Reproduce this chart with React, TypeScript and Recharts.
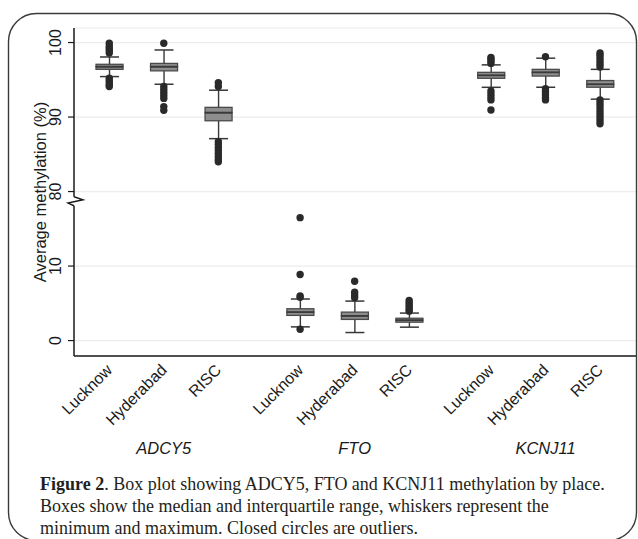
import React from 'react';
import {
  ComposedChart,
  Bar,
  Scatter,
  XAxis,
  YAxis,
  CartesianGrid,
  ReferenceLine,
  Label,
} from 'recharts';

// ---------- data ----------
const SITES = ['Lucknow', 'Hyderabad', 'RISC', 'Lucknow', 'Hyderabad', 'RISC', 'Lucknow', 'Hyderabad', 'RISC'];
const GENES = ['ADCY5', 'FTO', 'KCNJ11'];
const POSITIONS = [1, 2, 3, 4.5, 5.5, 6.5, 8, 9, 10];

const WHISKER_LOW = [95.43, 94.4, 87.1, 1.84, 1.08, 1.8, 93.99, 94.0, 92.4];
const Q1 = [96.4, 96.2, 89.5, 3.38, 2.84, 2.47, 95.2, 95.5, 94.0];
const MEDIAN = [96.77, 96.77, 90.6, 3.82, 3.33, 2.74, 95.6, 96.0, 94.4];
const Q3 = [97.08, 97.2, 91.3, 4.27, 3.82, 3.0, 96.0, 96.4, 94.9];
const WHISKER_HIGH = [98.06, 99.0, 93.6, 5.58, 5.3, 3.69, 97.0, 97.9, 96.4];

const OUTLIERS = [
  [98.6, 98.9, 99.2, 99.5, 99.9, 95.2, 94.9, 94.6, 94.3, 94.1],
  [99.9, 94.1, 93.7, 93.3, 92.9, 92.5, 91.4, 90.9],
  [94.1, 94.6, 86.7, 86.3, 85.9, 85.5, 85.1, 84.7, 84.3, 84.0],
  [16.5, 8.86, 6.0, 5.8, 1.53],
  [7.97, 6.5, 6.1, 5.76],
  [3.95, 4.2, 4.5, 4.8, 5.1, 5.4],
  [97.2, 97.5, 97.8, 98.0, 93.5, 93.1, 92.7, 92.3, 90.95],
  [98.1, 93.8, 93.4, 93.0, 92.6, 92.3],
  [96.7, 97.1, 97.5, 97.9, 98.3, 98.6, 92.3, 91.9, 91.5, 91.1, 90.7, 90.3, 89.9, 89.5, 89.1],
];

const Y_TICK_VALUES = [0, 10, 80, 90, 100];
const Y_TITLE = 'Average methylation (%)';
const CAPTION_LINES = [
  'Boxes show the median and interquartile range, whiskers represent the',
  'minimum and maximum. Closed circles are outliers.',
];

// ---------- broken-axis mapping ----------
const SHIFT = 60; // upper segment (80-100) is drawn right above the lower one
const toAxis = (v: number) => (v >= 50 ? v - SHIFT : v);
const fromAxis = (t: number) => (t > 19 ? t + SHIFT : t);
const BREAK_AT = 18.7;
const Y_DOMAIN: [number, number] = [-2.07, 41.95];
const X_DOMAIN: [number, number] = [0.353, 10.66];

const boxRows = POSITIONS.map((x, i) => ({
  x,
  base: toAxis(WHISKER_LOW[i]),
  lowW: toAxis(Q1[i]) - toAxis(WHISKER_LOW[i]),
  lowBox: toAxis(MEDIAN[i]) - toAxis(Q1[i]),
  highBox: toAxis(Q3[i]) - toAxis(MEDIAN[i]),
  highW: toAxis(WHISKER_HIGH[i]) - toAxis(Q3[i]),
}));

const outlierPoints = OUTLIERS.flatMap((vals, i) => vals.map((v) => ({ x: POSITIONS[i], y: toAxis(v) })));

// ---------- styles ----------
const SANS = '"Liberation Sans", Arial, sans-serif';
const SERIF = '"Liberation Serif", "Times New Roman", serif';
const BOX_FILL = '#8e8e8e';
const BOX_STROKE = '#4a4a4a';
const WHISKER = '#383838';
const CAP = 19;

const norm = (p: any) => {
  const y = Math.min(p.y, p.y + p.height);
  const h = Math.abs(p.height);
  return { x: p.x, w: p.width, y, h };
};

const Empty = () => <g />;

const LowWhisker = (p: any) => {
  const { x, w, y, h } = norm(p);
  const cx = x + w / 2;
  return (
    <g>
      <line x1={cx} x2={cx} y1={y} y2={y + h} stroke={WHISKER} strokeWidth={1.4} />
      <line x1={cx - CAP / 2} x2={cx + CAP / 2} y1={y + h} y2={y + h} stroke={WHISKER} strokeWidth={1.5} />
    </g>
  );
};

const HighWhisker = (p: any) => {
  const { x, w, y, h } = norm(p);
  const cx = x + w / 2;
  return (
    <g>
      <line x1={cx} x2={cx} y1={y} y2={y + h} stroke={WHISKER} strokeWidth={1.4} />
      <line x1={cx - CAP / 2} x2={cx + CAP / 2} y1={y} y2={y} stroke={WHISKER} strokeWidth={1.5} />
    </g>
  );
};

const LowBox = (p: any) => {
  const { x, w, y, h } = norm(p);
  return (
    <g>
      <rect x={x} y={y} width={w} height={h} fill={BOX_FILL} stroke={BOX_STROKE} strokeWidth={1.3} />
      <line x1={x} x2={x + w} y1={y} y2={y} stroke="#3a3a3a" strokeWidth={1.6} />
    </g>
  );
};

const HighBox = (p: any) => {
  const { x, w, y, h } = norm(p);
  return (
    <g>
      <rect x={x} y={y} width={w} height={h} fill={BOX_FILL} stroke={BOX_STROKE} strokeWidth={1.3} />
      <line x1={x} x2={x + w} y1={y + h} y2={y + h} stroke="#3a3a3a" strokeWidth={1.6} />
    </g>
  );
};

const Dot = (p: any) => <circle cx={p.cx} cy={p.cy} r={3.7} fill="#2a2a2a" />;

const XTick = (p: any) => {
  const { x, y, payload } = p;
  const idx = POSITIONS.indexOf(payload.value);
  if (idx < 0) return <g />;
  const px = x;
  const py = y + 3;
  return (
    <g>
      <text
        x={px}
        y={py}
        dy="0.35em"
        textAnchor="end"
        transform={`rotate(-45 ${px} ${py})`}
        fontFamily={SANS}
        fontSize={16}
        fill="#1a1a1a"
      >
        {SITES[idx]}
      </text>
      {idx % 3 === 1 && (
        <text
          x={x}
          y={y + 90}
          textAnchor="middle"
          fontFamily={SANS}
          fontStyle="italic"
          fontSize={16.5}
          fill="#1a1a1a"
        >
          {GENES[Math.floor(idx / 3)]}
        </text>
      )}
    </g>
  );
};

const YTick = (p: any) => {
  const { x, y, payload } = p;
  const px = x - 5;
  return (
    <text
      x={px}
      y={y}
      textAnchor="middle"
      transform={`rotate(-90 ${px} ${y})`}
      fontFamily={SANS}
      fontSize={16}
      fill="#1a1a1a"
    >
      {String(fromAxis(payload.value))}
    </text>
  );
};

const YTitle = (p: any) => {
  const vb = p.viewBox || { x: 0, y: 28, width: 74, height: 328 };
  const px = vb.x + 46;
  const py = vb.y + vb.height / 2;
  return (
    <text
      x={px}
      y={py}
      textAnchor="middle"
      transform={`rotate(-90 ${px} ${py})`}
      fontFamily={SANS}
      fontSize={16.5}
      fill="#1a1a1a"
    >
      {Y_TITLE}
    </text>
  );
};

const BreakMark = (p: any) => {
  const vb = p.viewBox || { x: 74, y: 201 };
  const x = vb.x;
  const y = vb.y;
  return (
    <path
      d={`M${x},${y - 4.5} L${x + 9},${y - 1.5} L${x - 6},${y + 1.8} L${x},${y + 4.5}`}
      fill="none"
      stroke="#1a1a1a"
      strokeWidth={1.4}
    />
  );
};

export default function App() {
  return (
    <div style={{ position: 'absolute', left: 0, top: 0, width: 638, height: 539, background: '#fff', overflow: 'hidden' }}>
      <ComposedChart
        width={638}
        height={470}
        data={boxRows}
        margin={{ top: 28, right: 2, left: 0, bottom: 0 }}
        barSize={27}
      >
        <CartesianGrid vertical={false} stroke="#ececec" strokeWidth={1.2} />
        <XAxis
          dataKey="x"
          type="number"
          domain={X_DOMAIN}
          ticks={POSITIONS}
          interval={0}
          tickLine={false}
          axisLine={{ stroke: '#1a1a1a', strokeWidth: 1.5 }}
          tick={<XTick />}
          height={114}
          allowDataOverflow
        />
        <YAxis
          type="number"
          domain={Y_DOMAIN}
          ticks={Y_TICK_VALUES.map(toAxis)}
          interval={0}
          width={74}
          axisLine={false}
          tickLine={{ stroke: '#1a1a1a', strokeWidth: 1.2 }}
          tickSize={6}
          tick={<YTick />}
          allowDataOverflow
        >
          <Label content={<YTitle />} />
        </YAxis>
        <ReferenceLine
          ifOverflow="visible"
          stroke="#1a1a1a"
          strokeWidth={1.5}
          segment={[
            { x: X_DOMAIN[0], y: Y_DOMAIN[0] },
            { x: X_DOMAIN[0], y: BREAK_AT - 0.6 },
          ]}
        />
        <ReferenceLine
          ifOverflow="visible"
          stroke="#1a1a1a"
          strokeWidth={1.5}
          segment={[
            { x: X_DOMAIN[0], y: BREAK_AT + 0.6 },
            { x: X_DOMAIN[0], y: Y_DOMAIN[1] },
          ]}
        />
        <ReferenceLine y={BREAK_AT} stroke="none" ifOverflow="visible" label={<BreakMark />} />
        <Bar dataKey="base" stackId="box" fill="none" shape={<Empty />} isAnimationActive={false} />
        <Bar dataKey="lowW" stackId="box" shape={<LowWhisker />} isAnimationActive={false} />
        <Bar dataKey="lowBox" stackId="box" shape={<LowBox />} isAnimationActive={false} />
        <Bar dataKey="highBox" stackId="box" shape={<HighBox />} isAnimationActive={false} />
        <Bar dataKey="highW" stackId="box" shape={<HighWhisker />} isAnimationActive={false} />
        <Scatter data={outlierPoints} dataKey="y" shape={<Dot />} isAnimationActive={false} />
      </ComposedChart>
      <svg
        width={638}
        height={539}
        style={{ position: 'absolute', left: 0, top: 0, pointerEvents: 'none' }}
      >
        <rect x={8.5} y={13.5} width={628} height={527} rx={28} ry={28} fill="none" stroke="#3a3a3a" strokeWidth={1.4} />
        <text x={40} y={490} fontFamily={SERIF} fontSize={18} fill="#231f20">
          <tspan fontWeight="bold">Figure 2</tspan>
          <tspan>. Box plot showing ADCY5, FTO and KCNJ11 methylation by place.</tspan>
        </text>
        {CAPTION_LINES.map((line, i) => (
          <text key={i} x={40} y={512 + i * 22} fontFamily={SERIF} fontSize={18} fill="#231f20">
            {line}
          </text>
        ))}
      </svg>
    </div>
  );
}
